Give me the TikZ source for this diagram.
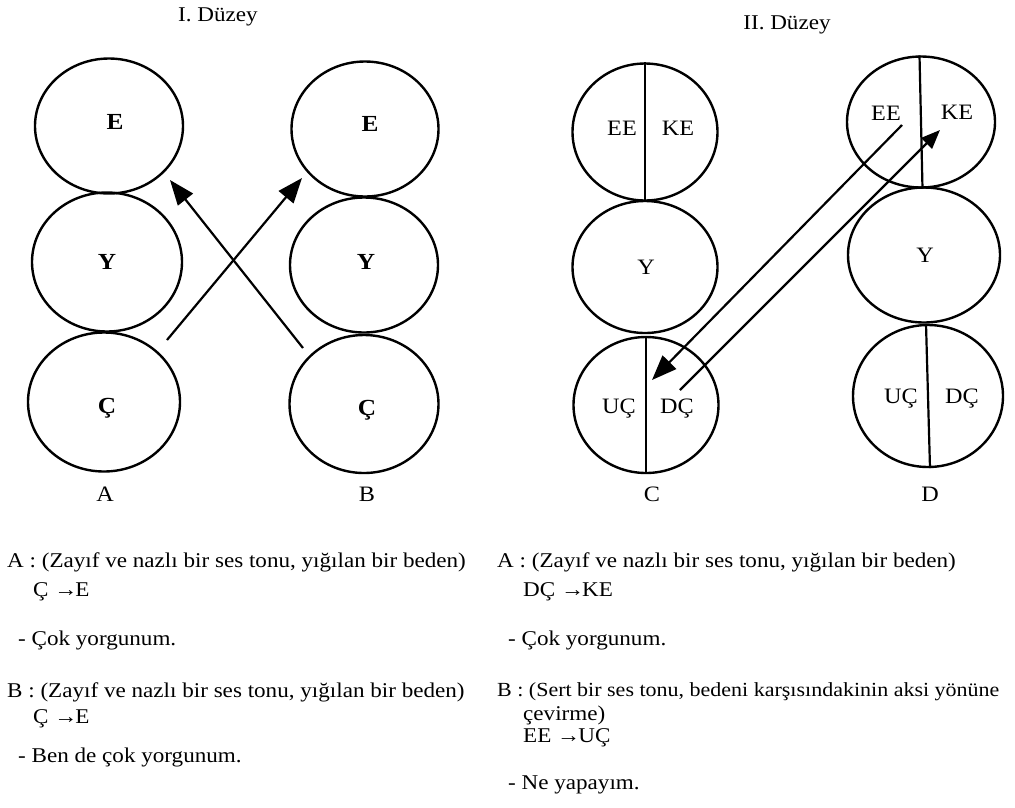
\documentclass[tikz,border=0pt]{standalone}
\usepackage{fontspec}
\setmainfont{Liberation Serif}[FakeStretch=1.1]
\usetikzlibrary{shapes.geometric,arrows.meta}
\begin{document}
\begin{tikzpicture}[x=1pt,y=-1pt,
  circ/.style={draw, ellipse, line width=2.4pt, inner sep=0pt},
  big/.style={font=\fontsize{23}{24}\selectfont\bfseries},
  mid/.style={font=\fontsize{22}{24}\selectfont},
  ttl/.style={font=\fontsize{21}{24}\selectfont},
  txt/.style={anchor=west, inner sep=0pt, font=\fontsize{21}{24}\selectfont},
  arr/.style={line width=2.2pt, -{Triangle[length=25pt,width=19pt]}},
  divider/.style={line width=2.2pt}
]
\useasboundingbox (0,0) rectangle (1015,807);
% titles
\node[ttl] (t1) at (218,17) {I. Düzey};
\node[ttl] (t2) at (787,25) {II. Düzey};
% column A
\node[circ, minimum width=148pt, minimum height=135pt] (AE) at (109,126) {};
\node[circ, minimum width=150pt, minimum height=139pt] (AY) at (107,262) {};
\node[circ, minimum width=152pt, minimum height=139pt] (AC) at (104,402) {};
\node[big] (AEl) at (115,122) {E};
\node[big] (AYl) at (107,262) {Y};
\node[big] (ACl) at (107,408) {Ç};
% column B
\node[circ, minimum width=147pt, minimum height=135pt] (BE) at (365,129) {};
\node[circ, minimum width=148pt, minimum height=135pt] (BY) at (364,265) {};
\node[circ, minimum width=149pt, minimum height=138pt] (BC) at (364,404) {};
\node[big] (BEl) at (370,124) {E};
\node[big] (BYl) at (366,262) {Y};
\node[big] (BCl) at (367,410) {Ç};
% column C
\node[circ, minimum width=145pt, minimum height=137pt] (CE) at (645,132) {};
\node[circ, minimum width=145pt, minimum height=132pt] (CY) at (645,267) {};
\node[circ, minimum width=145pt, minimum height=136pt] (CC) at (646,405) {};
\draw[divider] (CE.north) -- (CE.south);
\draw[divider] (CC.north) -- (CC.south);
\node[mid] (CEEl) at (622,128) {EE};
\node[mid] (CKEl) at (678,128) {KE};
\node[mid] (CYl) at (646,267) {Y};
\node[mid] (CUCl) at (619,409) {UÇ};
\node[mid] (CDCl) at (677,409) {DÇ};
% column D
\node[circ, minimum width=148pt, minimum height=131pt] (DE) at (921,122) {};
\node[circ, minimum width=152pt, minimum height=135pt] (DY) at (924,255) {};
\node[circ, minimum width=150pt, minimum height=142pt] (DC) at (928,396) {};
\draw[divider] ([xshift=-1.5pt]DE.north) -- ([xshift=1.5pt]DE.south);
\draw[divider] ([xshift=-2pt]DC.north) -- ([xshift=2pt]DC.south);
\node[mid] (DEEl) at (886,113) {EE};
\node[mid] (DKEl) at (957,112) {KE};
\node[mid] (DYl) at (925,255) {Y};
\node[mid] (DUCl) at (901,399) {UÇ};
\node[mid] (DDCl) at (962,399) {DÇ};
% column labels
\node[mid] (lA) at (105,494) {A};
\node[mid] (lB) at (367,494) {B};
\node[mid] (lC) at (652,494) {C};
\node[mid] (lD) at (930,494) {D};
% arrows
\coordinate (a1s) at (167,340); \coordinate (a1e) at (302,178);
\coordinate (a2s) at (303,348); \coordinate (a2e) at (170,180);
\coordinate (a3s) at (902,125); \coordinate (a3e) at (652,380);
\coordinate (a4s) at (680,390); \coordinate (a4e) at (940,130);
\draw[arr] (a1s) -- (a1e);
\draw[arr] (a2s) -- (a2e);
\draw[arr] (a3s) -- (a3e);
\draw[line width=2.2pt, -{Triangle[length=19pt,width=15pt]}] (a4s) -- (a4e);
% texts left
\node[txt] (l1) at (7,562) {A : (Zayıf ve nazlı bir ses tonu, yığılan bir beden)};
\node[txt] (l2) at (33,592) {Ç →\kern-2ptE};
\node[txt] (l3) at (18,640) {- Çok yorgunum.};
\node[txt] (l4) at (7,692) {B : (Zayıf ve nazlı bir ses tonu, yığılan bir beden)};
\node[txt] (l5) at (33,719) {Ç →\kern-2ptE};
\node[txt] (l6) at (18,757) {- Ben de çok yorgunum.};
% texts right
\node[txt] (r1) at (497,562) {A : (Zayıf ve nazlı bir ses tonu, yığılan bir beden)};
\node[txt] (r2) at (523,592) {DÇ →\kern-2ptKE};
\node[txt] (r3) at (508,640) {- Çok yorgunum.};
\node[txt, font=\fontsize{20}{24}\selectfont] (r4) at (497,692) {B : (Sert bir ses tonu, bedeni karşısındakinin aksi yönüne};
\node[txt] (r5) at (523,715) {çevirme)};
\node[txt] (r6) at (523,738) {EE →\kern-2ptUÇ};
\node[txt] (r7) at (508,785) {- Ne yapayım.};
\end{tikzpicture}
\end{document}
